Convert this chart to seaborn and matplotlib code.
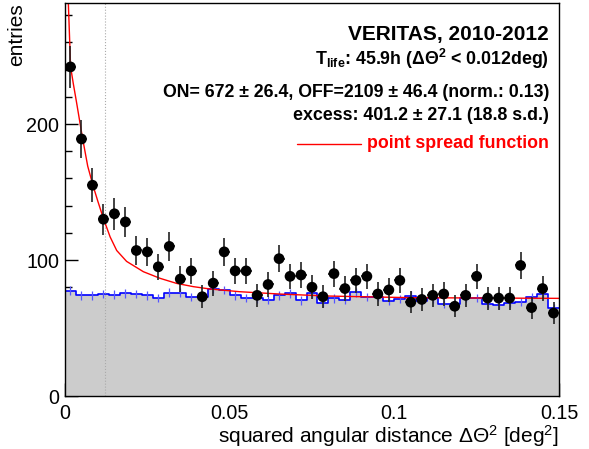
import numpy as np
import pandas as pd
import matplotlib
matplotlib.use('Agg')
import matplotlib.pyplot as plt
from matplotlib.ticker import MultipleLocator
import seaborn as sns

# binning of the theta^2 histogram (45 bins up to 0.15 deg^2)
n_bins = 45
x_max = 0.15
theta_cut = 0.012
off_norm = 0.13

# ON counts per bin
on_counts = [242, 189, 155, 130, 134, 128, 107, 106, 95, 110,
             86, 92, 73, 83, 106, 92, 92, 74, 82, 101,
             88, 89, 80, 73, 90, 79, 85, 88, 75, 78,
             85, 69, 71, 74, 75, 66, 74, 88, 72, 72,
             72, 96, 65, 79, 61]

# normalised OFF counts per bin
off_counts = [77.5, 74, 74, 75, 74.5, 75.5, 75, 74, 72, 76,
              76, 73, 72.5, 79, 78, 74, 72, 71.8, 70.5, 74,
              75.5, 70.3, 75.5, 68.6, 71.8, 70.6, 76.2, 73, 73, 69.8,
              71.5, 73.8, 69.8, 71.8, 67.9, 67.4, 72.3, 72.3, 67.4, 66.9,
              68.6, 69.3, 73, 74.7, 64.9]

# point spread function curve
psf_x = [0.001, 0.0017, 0.0025, 0.0035, 0.0053, 0.0069, 0.0086, 0.0100,
         0.0116, 0.0137, 0.0157, 0.0187, 0.0238, 0.0289, 0.0339, 0.039,
         0.044, 0.053, 0.065, 0.080, 0.105, 0.15]
psf_y = [290, 242, 230, 216, 190, 169, 154, 143,
         131, 117, 107, 99, 91.4, 86.5, 82.8, 80.4,
         78.7, 76.7, 75, 73.5, 72.3, 71.8]

x_ticks = [0, 0.05, 0.1, 0.15]
x_tick_labels = ['0', '0.05', '0.1', '0.15']
y_ticks = [0, 100, 200]

info_lines = [
    'T$_{life}$: 45.9h (ΔΘ$^{2}$ < 0.012deg)',
    'ON= 672 ± 26.4, OFF=2109 ± 46.4 (norm.: 0.13)',
    'excess: 401.2 ± 27.1 (18.8 s.d.)',
]

bin_width = x_max / n_bins
bin_centers = (np.arange(n_bins) + 0.5) * bin_width
on_err = np.sqrt(on_counts)
off_err = np.sqrt(np.array(off_counts) * off_norm)

df = pd.DataFrame({'theta2': bin_centers, 'on': on_counts, 'off': off_counts})

sns.set_theme(style='ticks')
plt.rcParams['font.family'] = ['Liberation Sans', 'DejaVu Sans']
plt.rcParams['mathtext.default'] = 'regular'
plt.rcParams['xtick.direction'] = 'in'
plt.rcParams['ytick.direction'] = 'in'
for key in ['text.color', 'axes.labelcolor', 'xtick.color', 'ytick.color',
            'xtick.labelcolor', 'ytick.labelcolor']:
    plt.rcParams[key] = 'black'

fig = plt.figure(figsize=(5.89, 4.49), dpi=100)
ax = fig.add_axes([65 / 589, 1 - 396 / 449, 494 / 589, 393 / 449])
ax.set_axisbelow(True)  # grey fill hides the ticks, like in ROOT

# OFF histogram: grey fill + blue outline
sns.histplot(data=df, x='theta2', weights='off', bins=n_bins, binrange=(0, x_max),
             element='step', fill=True, color='#cccccc', alpha=1, linewidth=0,
             ax=ax, zorder=1)
sns.histplot(data=df, x='theta2', weights='off', bins=n_bins, binrange=(0, x_max),
             element='step', fill=False, color='blue', linewidth=1.2,
             ax=ax, zorder=2)
ax.errorbar(df['theta2'], df['off'], yerr=off_err, fmt='none',
            ecolor='#5555ff', elinewidth=0.9, zorder=2)

ax.axvline(theta_cut, color='#aaaaaa', linestyle=':', linewidth=0.8, zorder=2)

sns.lineplot(x=psf_x, y=psf_y, color='red', linewidth=1.0, ax=ax, zorder=3)

# ON data points
ax.errorbar(df['theta2'], df['on'], yerr=on_err, xerr=bin_width / 2, fmt='none',
            ecolor='#222222', elinewidth=1.2, zorder=4)
sns.scatterplot(data=df, x='theta2', y='on', color='black', s=60,
                edgecolor='none', ax=ax, zorder=5)

ax.set_xlim(0, x_max)
ax.set_ylim(0, 289)
ax.set_xticks(x_ticks)
ax.set_xticklabels(x_tick_labels)
ax.set_yticks(y_ticks)
ax.xaxis.set_minor_locator(MultipleLocator(0.01))
ax.yaxis.set_minor_locator(MultipleLocator(20))
ax.tick_params(which='major', length=9.5, width=1, labelsize=14.2,
               top=False, right=False)
ax.tick_params(which='minor', length=5, width=1, top=False, right=False)
ax.tick_params(axis='x', which='major', pad=5.5)
ax.tick_params(axis='y', which='major', pad=4)
for sp in ax.spines.values():
    sp.set_visible(True)
    sp.set_linewidth(1)
    sp.set_color('black')
    sp.set_zorder(6)

ax.set_xlabel('squared angular distance ΔΘ$^{2}$ [deg$^{2}$]', fontsize=15,
              loc='right', labelpad=0)
ax.set_ylabel('entries', fontsize=15, loc='top')
ax.yaxis.set_label_coords(-0.078, 1.0)

# legend block
ax.text(0.98, 0.906, 'VERITAS, 2010-2012', transform=ax.transAxes, ha='right',
        va='baseline', fontsize=15, fontweight='bold')
for txt, yb in zip(info_lines, [0.842, 0.761, 0.702]):
    ax.text(0.98, yb, txt, transform=ax.transAxes, ha='right', va='baseline',
            fontsize=12.8, fontweight='bold')
ax.plot([0.47, 0.60], [0.641, 0.641], color='red', linewidth=1.0,
        transform=ax.transAxes)
ax.text(0.98, 0.631, 'point spread function', transform=ax.transAxes, ha='right',
        va='baseline', fontsize=12.8, fontweight='bold', color='red')

fig.savefig('out.png', dpi=100)
